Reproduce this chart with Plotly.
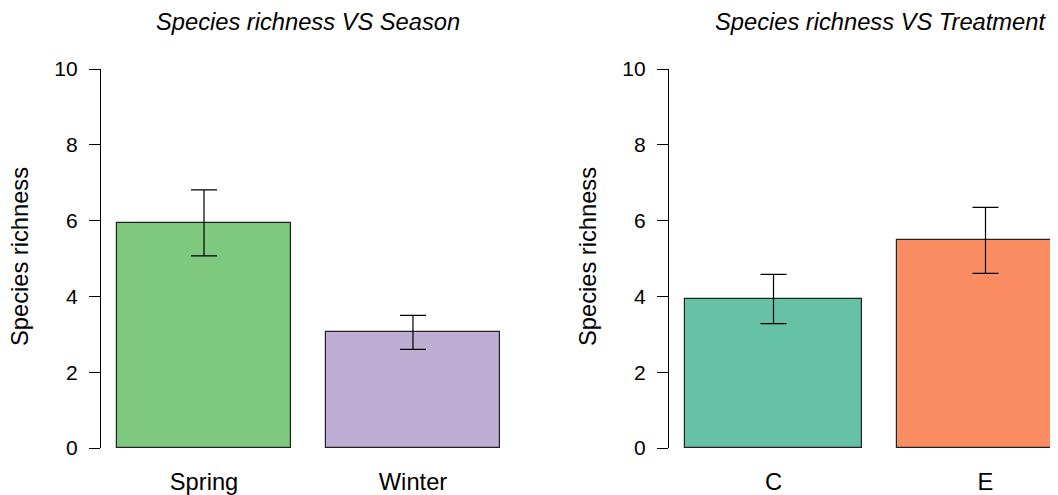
import plotly.graph_objects as go

# Data
season_categories = ["Spring", "Winter"]
season_means = [5.94, 3.05]
season_se = [0.87, 0.45]
season_colors = ["#7FC97F", "#BEAED4"]

treatment_categories = ["C", "E"]
treatment_means = [3.93, 5.48]
treatment_se = [0.65, 0.87]
treatment_colors = ["#66C2A5", "#FC8D62"]

y_ticks = [0, 2, 4, 6, 8, 10]

# The page body has an 8px margin; work in screen pixels and shift.
OFF = 8
W, H = 1058 - OFF, 495 - OFF
FONT = "Liberation Sans, Arial, sans-serif"

def px_x(p):
    return (p - OFF) / W

def px_y(p):
    return 1 - (p - OFF) / H

fig = go.Figure()

fig.add_trace(go.Bar(
    x=season_categories, y=season_means,
    marker=dict(color=season_colors, line=dict(color="#222222", width=1.2)),
    width=0.833,
    error_y=dict(type="data", array=season_se, color="black", thickness=1.2, width=13),
    xaxis="x", yaxis="y", showlegend=False,
))
fig.add_trace(go.Bar(
    x=treatment_categories, y=treatment_means,
    marker=dict(color=treatment_colors, line=dict(color="#222222", width=1.2)),
    width=0.833,
    error_y=dict(type="data", array=treatment_se, color="black", thickness=1.2, width=13),
    xaxis="x2", yaxis="y2", showlegend=False,
))

y_top, y_bot = 69, 448
ydom = [px_y(y_bot), px_y(y_top)]

common_y = dict(
    range=[0, 10], tickvals=y_ticks, showline=True, linecolor="black", linewidth=1.2,
    ticks="outside", ticklen=11, tickwidth=1.2, tickcolor="black",
    showgrid=False, zeroline=False, tickfont=dict(family=FONT, size=21, color="black"),
    ticklabelstandoff=7, domain=ydom, fixedrange=True, automargin=False,
)
common_x = dict(
    showline=False, showgrid=False, zeroline=False, ticks="",
    tickfont=dict(family=FONT, size=23.7, color="black"), ticklabelstandoff=17,
    fixedrange=True, automargin=False,
)

fig.update_layout(
    width=W, height=H,
    margin=dict(l=0, r=0, t=0, b=0, autoexpand=False),
    paper_bgcolor="white", plot_bgcolor="white",
    bargap=0,
    xaxis=dict(**common_x, domain=[px_x(101), px_x(516)], range=[-0.493, 1.493], anchor="y"),
    yaxis=dict(**common_y, anchor="x"),
    xaxis2=dict(**common_x, domain=[px_x(669), 1.0], range=[-0.493, 1.342], anchor="y2"),
    yaxis2=dict(**common_y, anchor="x2"),
    annotations=[
        dict(text="<i>Species richness VS Season</i>", x=px_x(308), y=px_y(22),
             xref="paper", yref="paper", showarrow=False, xanchor="center", yanchor="middle",
             font=dict(family=FONT, size=23.7, color="black")),
        dict(text="<i>Species richness VS Treatment</i>", x=px_x(880), y=px_y(22),
             xref="paper", yref="paper", showarrow=False, xanchor="center", yanchor="middle",
             font=dict(family=FONT, size=23.7, color="black")),
        dict(text="Species richness", x=px_x(20), y=px_y(257), textangle=-90,
             xref="paper", yref="paper", showarrow=False, xanchor="center", yanchor="middle",
             font=dict(family=FONT, size=23.7, color="black")),
        dict(text="Species richness", x=px_x(588), y=px_y(257), textangle=-90,
             xref="paper", yref="paper", showarrow=False, xanchor="center", yanchor="middle",
             font=dict(family=FONT, size=23.7, color="black")),
    ],
)

fig.write_html("out.html")
